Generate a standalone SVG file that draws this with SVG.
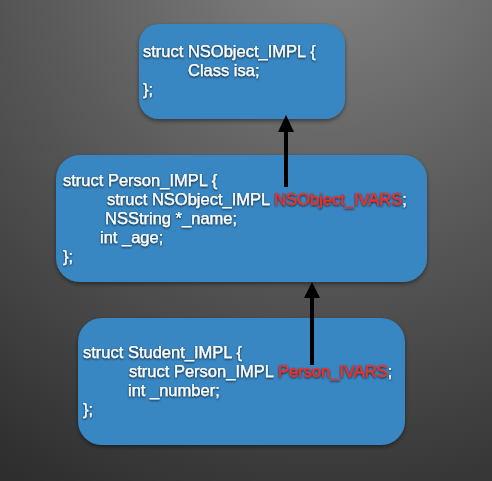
<svg xmlns="http://www.w3.org/2000/svg" width="492" height="481" viewBox="0 0 492 481">
<defs>
<radialGradient id="bg" cx="330" cy="-60" r="620" gradientUnits="userSpaceOnUse">
<stop offset="0" stop-color="#858585"/>
<stop offset="0.45" stop-color="#5c5c5c"/>
<stop offset="1" stop-color="#2e2e2e"/>
</radialGradient>
<filter id="sh" x="-10%" y="-10%" width="120%" height="130%">
<feDropShadow dx="0" dy="2" stdDeviation="2" flood-color="#000" flood-opacity="0.45"/>
</filter>
<filter id="ts" x="-5%" y="-30%" width="110%" height="160%">
<feDropShadow dx="0" dy="1" stdDeviation="0.8" flood-color="#000" flood-opacity="0.85"/>
</filter>
</defs>
<style>
.box{fill:#3787c2;filter:url(#sh)}
.t{font-family:"Liberation Sans",Arial,sans-serif;font-size:16.5px;fill:#fff;stroke:#fff;stroke-width:0.25;filter:url(#ts)}
.r{fill:#ff2a1c;stroke:#ff2a1c}
.c{stroke:#000;stroke-width:4;fill:none}
</style>
<rect width="492" height="481" fill="url(#bg)"/>
<g id="nsobject">
<rect class="box" x="139" y="24" width="206" height="95" rx="20"/>
<text class="t" x="143" y="57">struct NSObject_IMPL {</text>
<text class="t" x="188" y="76">Class isa;</text>
<text class="t" x="143" y="95">};</text>
</g>
<g id="person">
<rect class="box" x="56" y="155" width="371" height="127" rx="24"/>
<text class="t" x="63" y="186">struct Person_IMPL {</text>
<text class="t" x="107" y="205">struct NSObject_IMPL <tspan class="r">NSObject_IVARS</tspan>;</text>
<text class="t" x="105" y="224">NSString *_name;</text>
<text class="t" x="100" y="243">int _age;</text>
<text class="t" x="63" y="262">};</text>
</g>
<g id="student">
<rect class="box" x="78" y="318" width="327" height="127" rx="24"/>
<text class="t" x="83" y="358">struct Student_IMPL {</text>
<text class="t" x="129" y="377">struct Person_IMPL <tspan class="r">Person_IVARS</tspan>;</text>
<text class="t" x="128" y="396">int _number;</text>
<text class="t" x="83" y="415">};</text>
</g>
<g id="connectors">
<line class="c" x1="286" y1="187" x2="286" y2="131" />
<path d="M278,132 L286,115 L294,132 Z" fill="#000"/>
<line class="c" x1="312" y1="365" x2="312" y2="297" />
<path d="M304,298 L312,282 L320,298 Z" fill="#000"/>
</g>
</svg>
